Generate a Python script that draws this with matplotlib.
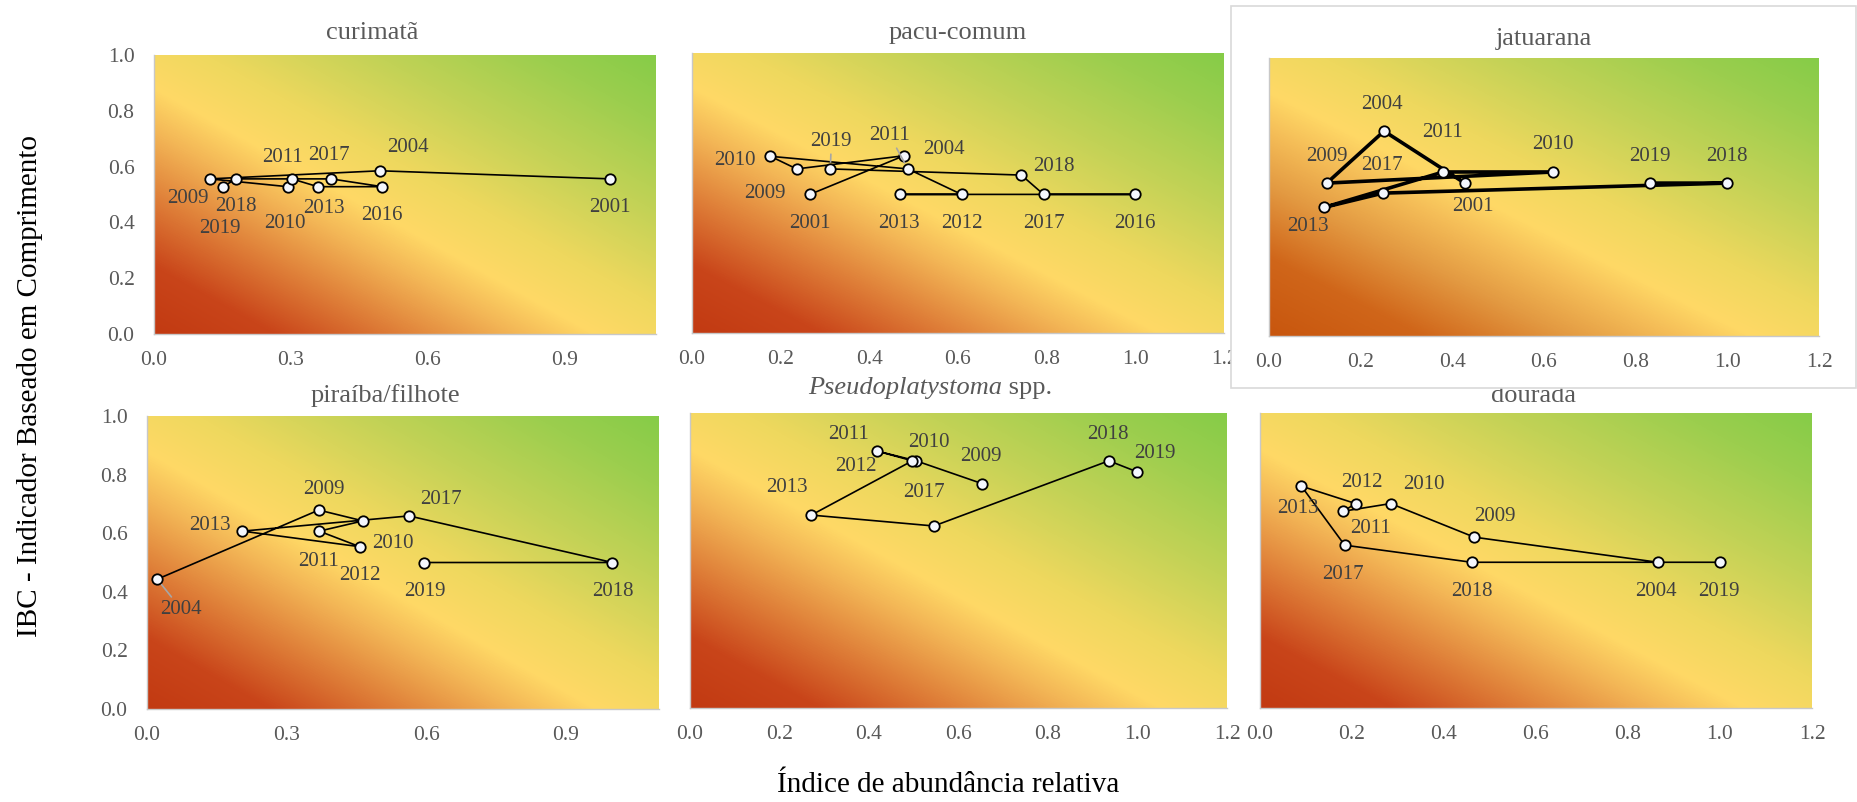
import numpy as np
import matplotlib
matplotlib.use('Agg')
import matplotlib.pyplot as plt
from matplotlib.colors import LinearSegmentedColormap
from matplotlib.patches import Rectangle

plt.rcParams['font.family'] = 'Liberation Serif'

W, H = 1858, 802

# ---- dados: índice de abundância relativa (x) e IBC (y) por ano ----
curimata_anos = [2001, 2004, 2009, 2010, 2011, 2013, 2016, 2017, 2018, 2019]
curimata_x = [1.000, 0.495, 0.122, 0.293, 0.302, 0.359, 0.500, 0.388, 0.180, 0.151]
curimata_y = [0.556, 0.585, 0.556, 0.528, 0.556, 0.528, 0.528, 0.556, 0.556, 0.528]

pacu_anos = [2001, 2004, 2009, 2010, 2011, 2012, 2013, 2016, 2017, 2018, 2019]
pacu_x = [0.266, 0.478, 0.236, 0.177, 0.487, 0.608, 0.469, 1.000, 0.793, 0.743, 0.312]
pacu_y = [0.495, 0.633, 0.586, 0.631, 0.586, 0.495, 0.495, 0.495, 0.495, 0.564, 0.586]

jatuarana_anos = [2001, 2004, 2009, 2010, 2011, 2013, 2017, 2018, 2019]
jatuarana_x = [0.427, 0.251, 0.126, 0.620, 0.380, 0.121, 0.249, 1.000, 0.831]
jatuarana_y = [0.550, 0.737, 0.550, 0.590, 0.590, 0.463, 0.514, 0.550, 0.550]

piraiba_anos = [2004, 2009, 2010, 2011, 2012, 2013, 2017, 2018, 2019]
piraiba_x = [0.022, 0.369, 0.464, 0.370, 0.457, 0.205, 0.563, 1.000, 0.596]
piraiba_y = [0.443, 0.679, 0.642, 0.607, 0.554, 0.607, 0.659, 0.500, 0.500]

pseudo_anos = [2009, 2010, 2011, 2012, 2013, 2017, 2018, 2019]
pseudo_x = [0.652, 0.505, 0.418, 0.497, 0.271, 0.545, 0.936, 1.000]
pseudo_y = [0.761, 0.838, 0.871, 0.838, 0.654, 0.617, 0.838, 0.800]

dourada_anos = [2004, 2009, 2010, 2011, 2012, 2013, 2017, 2018, 2019]
dourada_x = [0.865, 0.466, 0.284, 0.181, 0.208, 0.090, 0.184, 0.460, 1.000]
dourada_y = [0.494, 0.579, 0.693, 0.667, 0.693, 0.752, 0.552, 0.494, 0.494]

# posição dos rótulos dos anos (pixels, dx para direita, dy para baixo)
pos_curimata = {2001: (0, 29), 2004: (28, -23), 2009: (-22, 20), 2010: (-3, 37),
                2011: (-9, -21), 2013: (6, 22), 2016: (0, 29), 2017: (-2, -23),
                2018: (0, 28), 2019: (-3, 42)}
pos_pacu = {2001: (0, 29), 2004: (40, -6), 2009: (-32, 25), 2010: (-36, 4),
            2011: (-18, -33), 2012: (0, 29), 2013: (-1, 29), 2016: (0, 29),
            2017: (0, 29), 2018: (32, -9), 2019: (1, -27)}
pos_jatuarana = {2001: (8, 23), 2004: (-2, -27), 2009: (0, -27), 2010: (0, -27),
                 2011: (-1, -39), 2013: (-17, 19), 2017: (-1, -28), 2018: (0, -27),
                 2019: (0, -27)}
pos_piraiba = {2004: (24, 30), 2009: (5, -21), 2010: (30, 23), 2011: (-1, 30),
               2012: (0, 29), 2013: (-32, -6), 2017: (32, -16), 2018: (0, 29),
               2019: (0, 29)}
pos_pseudo = {2009: (-1, -27), 2010: (13, -18), 2011: (-29, -17), 2012: (-57, 6),
              2013: (-24, -28), 2017: (-10, -33), 2018: (-1, -26), 2019: (17, -18)}
pos_dourada = {2004: (-2, 29), 2009: (21, -21), 2010: (33, -19), 2011: (27, 17),
               2012: (6, -21), 2013: (-3, 22), 2017: (-2, 29), 2018: (0, 29),
               2019: (-1, 29)}

cores = [(0.0, '#C23A12'), (0.12, '#C9451A'), (0.25, '#E0823A'), (0.36, '#F3B656'),
         (0.44, '#FFD966'), (0.55, '#EED85E'), (0.72, '#C2D256'), (0.88, '#9CCE4E'),
         (1.0, '#86CC48')]
cores_jat = [(0.0, '#C8560E'), (0.14, '#D0661A'), (0.27, '#E39A42'), (0.37, '#F5BE58'),
             (0.44, '#FFD966'), (0.55, '#EED85E'), (0.72, '#C2D256'), (0.88, '#9CCE4E'),
             (1.0, '#86CC48')]
cmap = LinearSegmentedColormap.from_list('ibc', cores)
cmap_jat = LinearSegmentedColormap.from_list('ibc_jat', cores_jat)

u, v = np.meshgrid(np.linspace(0, 1, 500), np.linspace(0, 1, 300))
fundo = (u + v) / 2


def eixo(l, t, r, b):
    return fig.add_axes([l / W, 1 - b / H, (r - l) / W, (b - t) / H])


def painel(ax, anos, x, y, pos, xmax, xticks, mapa=cmap, lw=1.2, mostra_y=False,
           guias=()):
    ax.imshow(fundo, origin='lower', extent=[0, xmax, 0, 1], aspect='auto',
              cmap=mapa, vmin=0, vmax=1, interpolation='bilinear', zorder=0)
    ax.plot(x, y, color='black', lw=lw, zorder=2)
    ax.plot(x, y, 'o', ms=7.5, mfc='#F4F7FD', mec='black', mew=1.3, zorder=3)
    for ano, xi, yi in zip(anos, x, y):
        dx, dy = pos[ano]
        seta = None
        if ano in guias:
            seta = dict(arrowstyle='-', color='#A6A6A6', lw=1.2, shrinkA=0, shrinkB=5)
        ax.annotate(str(ano), (xi, yi), xytext=(dx, -dy), textcoords='offset pixels',
                    ha='center', va='center', fontsize=15, color='#404040',
                    arrowprops=seta, zorder=4)
    ax.set_xlim(0, xmax)
    ax.set_ylim(0, 1)
    ax.set_xticks(xticks)
    ax.set_xticklabels(['%.1f' % t for t in xticks])
    if mostra_y:
        ax.set_yticks(np.arange(0, 1.01, 0.2))
        ax.set_yticklabels(['%.1f' % t for t in np.arange(0, 1.01, 0.2)])
    else:
        ax.set_yticks([])
    ax.tick_params(length=0, labelsize=15.5, labelcolor='#595959')
    ax.tick_params(axis='x', pad=12)
    ax.tick_params(axis='y', pad=14)
    for lado in ['top', 'right']:
        ax.spines[lado].set_visible(False)
    for lado in ['left', 'bottom']:
        ax.spines[lado].set_color('#C8C8C8')
        ax.spines[lado].set_linewidth(1.0)


fig = plt.figure(figsize=(W / 100, H / 100), dpi=100)

t03 = [0, 0.3, 0.6, 0.9]
t02 = [0, 0.2, 0.4, 0.6, 0.8, 1.0, 1.2]

ax1 = eixo(154, 55, 656, 334)
ax2 = eixo(692, 53, 1224, 333)
ax3 = eixo(1269, 58, 1819, 336)
ax4 = eixo(147, 416, 659, 709)
ax5 = eixo(690, 413, 1227, 708)
ax6 = eixo(1260, 413, 1812, 708)

painel(ax1, curimata_anos, curimata_x, curimata_y, pos_curimata, 1.1, t03, mostra_y=True)
painel(ax2, pacu_anos, pacu_x, pacu_y, pos_pacu, 1.2, t02, guias=(2011, 2019))
painel(ax3, jatuarana_anos, jatuarana_x, jatuarana_y, pos_jatuarana, 1.2, t02,
       mapa=cmap_jat, lw=2.6)
painel(ax4, piraiba_anos, piraiba_x, piraiba_y, pos_piraiba, 1.1, t03, mostra_y=True,
       guias=(2004,))
painel(ax5, pseudo_anos, pseudo_x, pseudo_y, pos_pseudo, 1.2, t02)
painel(ax6, dourada_anos, dourada_x, dourada_y, pos_dourada, 1.2, t02)

# títulos
tit = dict(fontsize=19, color='#595959', ha='center', va='center')
fig.text(372 / W, 1 - 33 / H, 'curimatã', **tit)
fig.text(958 / W, 1 - 33 / H, 'pacu-comum', **tit)
fig.text(1544 / W, 1 - 39 / H, 'jatuarana', **tit)
fig.text(385 / W, 1 - 396 / H, 'piraíba/filhote', **tit)
t_ps = fig.text(808 / W, 1 - 388 / H, 'Pseudoplatystoma', style='italic', fontsize=19,
                color='#595959', ha='left', va='center')
ax5.annotate(' spp.', xy=(1, 0), xycoords=t_ps, ha='left', va='bottom', fontsize=19,
             color='#595959', annotation_clip=False)
ax6.text(1534 / W, 1 - 396 / H, 'dourada', transform=fig.transFigure, **tit)

# moldura do gráfico da jatuarana (cobre parte do título da dourada)
ax3.set_zorder(1)
moldura = Rectangle((1231 / W, 1 - 388 / H), 625 / W, 382 / H, transform=fig.transFigure,
                    facecolor='white', edgecolor='#D9D9D9', lw=1.2, zorder=0.5)
fig.add_artist(moldura)

fig.text(30 / W, 1 - 386 / H, 'IBC - Indicador Baseado em Comprimento', rotation=90,
         ha='center', va='center', fontsize=21, color='black')
fig.text(948 / W, 1 - 785 / H, 'Índice de abundância relativa', ha='center',
         va='center', fontsize=21, color='black')

fig.savefig('out.png', dpi=100)
